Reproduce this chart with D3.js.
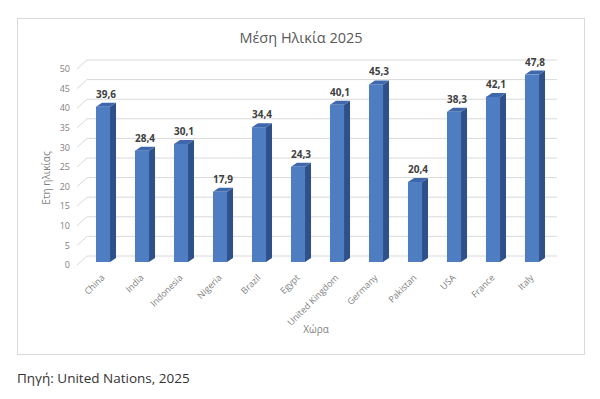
<!DOCTYPE html>
<html>
<head>
<meta charset="utf-8">
<script src="https://cdn.jsdelivr.net/npm/d3@7"></script>
<style>
  html, body { margin: 0; padding: 0; background: #fff; }
  svg { display: block; }
  text { font-family: "Open Sans", "Noto Sans", sans-serif; }
</style>
</head>
<body>
<div id="chart"></div>
<script>
const countries = ["China", "India", "Indonesia", "Nigeria", "Brazil", "Egypt", "United Kingdom",
                   "Germany", "Pakistan", "USA", "France", "Italy"];
const medianAge = [39.6, 28.4, 30.1, 17.9, 34.4, 24.3, 40.1, 45.3, 20.4, 38.3, 42.1, 47.8];
const yTicks = [0, 5, 10, 15, 20, 25, 30, 35, 40, 45, 50];

const width = 600, height = 399;
const wall = {dx: 10, dy: -9};   // back wall offset
const barOff = {dx: 3, dy: -3};  // bar front plane offset
const barDepth = {dx: 6, dy: -4};

const svg = d3.select("#chart").append("svg")
    .attr("width", width)
    .attr("height", height);

// chart frame
svg.append("rect")
    .attr("x", 17.5).attr("y", 18.5)
    .attr("width", 567).attr("height", 336)
    .attr("fill", "#fff")
    .attr("stroke", "#d9d9d9");

const x = d3.scaleBand().domain(countries).range([80.5, 548.5]);
const y = d3.scaleLinear().domain([0, 50]).range([265, 69]);

// gridlines: slanted side + back wall
const grid = svg.append("g").attr("stroke", "#d9d9d9").attr("fill", "none");
yTicks.forEach(t => {
    const y0 = y(t);
    grid.append("path")
        .attr("d", `M77,${y0} L${77 + wall.dx},${y0 + wall.dy} L557,${y0 + wall.dy}`);
});

// y tick labels
svg.append("g").selectAll("text")
    .data(yTicks)
    .join("text")
    .attr("x", 70)
    .attr("y", d => y(d))
    .attr("dy", "0.35em")
    .attr("text-anchor", "end")
    .attr("font-size", 9)
    .attr("fill", "#7f7f7f")
    .text(d => d);

// bars
const bw = x.bandwidth() * 0.36;
const bars = svg.append("g").selectAll("g")
    .data(countries.map((c, i) => ({c, v: medianAge[i]})))
    .join("g");

bars.each(function(d) {
    const g = d3.select(this);
    const x0 = x(d.c) + x.bandwidth() / 2 - bw / 2 + barOff.dx;
    const x1 = x0 + bw;
    const yb = y(0) + barOff.dy;
    const yt = y(d.v) + barOff.dy;
    // side face
    g.append("path")
        .attr("d", `M${x1},${yb} L${x1 + barDepth.dx},${yb + barDepth.dy} L${x1 + barDepth.dx},${yt + barDepth.dy} L${x1},${yt} Z`)
        .attr("fill", "#2f5189");
    // top face
    g.append("path")
        .attr("d", `M${x0},${yt} L${x0 + barDepth.dx},${yt + barDepth.dy} L${x1 + barDepth.dx},${yt + barDepth.dy} L${x1},${yt} Z`)
        .attr("fill", "#3e68ab");
    // front face
    g.append("rect")
        .attr("x", x0).attr("y", yt)
        .attr("width", bw).attr("height", yb - yt)
        .attr("fill", "#4f7dc1");
    // value label
    g.append("text")
        .attr("x", (x0 + x1 + barDepth.dx) / 2)
        .attr("y", yt + barDepth.dy - 5)
        .attr("text-anchor", "middle")
        .attr("font-size", 10)
        .attr("font-weight", "bold")
        .attr("fill", "#404040")
        .text(d3.format(".1f")(d.v).replace(".", ","));
});

// category labels
svg.append("g").selectAll("text")
    .data(countries)
    .join("text")
    .attr("transform", d => `translate(${x(d) + x.bandwidth() / 2 + 3},276) rotate(-45)`)
    .attr("text-anchor", "end")
    .attr("dy", "0.35em")
    .attr("font-size", 9)
    .attr("fill", "#7f7f7f")
    .text(d => d);

// titles
svg.append("text")
    .attr("x", 301).attr("y", 43)
    .attr("text-anchor", "middle")
    .attr("font-size", 14.5)
    .attr("fill", "#595959")
    .text("Μέση Ηλικία 2025");

svg.append("text")
    .attr("x", 316).attr("y", 333)
    .attr("text-anchor", "middle")
    .attr("font-size", 10)
    .attr("fill", "#7f7f7f")
    .text("Χώρα");

svg.append("text")
    .attr("transform", "translate(50,178) rotate(-90)")
    .attr("text-anchor", "middle")
    .attr("font-size", 10)
    .attr("fill", "#7f7f7f")
    .text("Ετη ηλικίας");

svg.append("text")
    .attr("x", 17).attr("y", 383)
    .attr("font-size", 13.5)
    .attr("fill", "#333")
    .text("Πηγή: United Nations, 2025");
</script>
</body>
</html>
